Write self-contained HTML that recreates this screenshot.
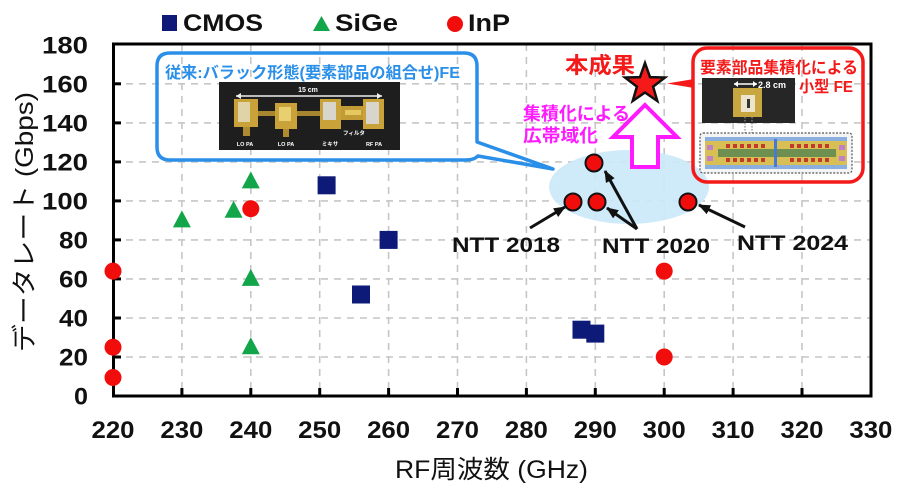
<!DOCTYPE html>
<html>
<head>
<meta charset="utf-8">
<style>
html,body{margin:0;padding:0;background:#fff;}
svg{display:block;}
text{font-family:"Liberation Sans","Noto Sans CJK JP",sans-serif;}
</style>
</head>
<body>
<svg width="900" height="490" viewBox="0 0 900 490" xmlns="http://www.w3.org/2000/svg">
<defs>
<marker id="ah" markerWidth="12" markerHeight="10" refX="11" refY="5" orient="auto" markerUnits="userSpaceOnUse">
<path d="M0,0 L12,5 L0,10 Z" fill="#111"/>
</marker>
</defs>
<rect width="900" height="490" fill="#fff"/>

<!-- grid -->
<g stroke="#c6c6c6" stroke-width="1.6" stroke-dasharray="7,6">
<line x1="181.9" y1="44" x2="181.9" y2="396"/>
<line x1="250.8" y1="44" x2="250.8" y2="396"/>
<line x1="319.7" y1="44" x2="319.7" y2="396"/>
<line x1="388.6" y1="44" x2="388.6" y2="396"/>
<line x1="457.5" y1="44" x2="457.5" y2="396"/>
<line x1="526.4" y1="44" x2="526.4" y2="396"/>
<line x1="595.3" y1="44" x2="595.3" y2="396"/>
<line x1="664.2" y1="44" x2="664.2" y2="396"/>
<line x1="733.1" y1="44" x2="733.1" y2="396"/>
<line x1="802.0" y1="44" x2="802.0" y2="396"/>
<line x1="113" y1="357.0" x2="871" y2="357.0"/>
<line x1="113" y1="318.0" x2="871" y2="318.0"/>
<line x1="113" y1="278.9" x2="871" y2="278.9"/>
<line x1="113" y1="239.9" x2="871" y2="239.9"/>
<line x1="113" y1="200.9" x2="871" y2="200.9"/>
<line x1="113" y1="161.9" x2="871" y2="161.9"/>
<line x1="113" y1="122.9" x2="871" y2="122.9"/>
<line x1="113" y1="83.8" x2="871" y2="83.8"/>
</g>

<!-- ellipse highlight -->
<ellipse cx="629" cy="187" rx="80" ry="37" fill="#cbe8f8" opacity="0.92"/>

<!-- frame -->
<rect x="113.5" y="44" width="757.5" height="352" fill="none" stroke="#000" stroke-width="3"/>
<g stroke="#000" stroke-width="3">
<line x1="113" y1="357.0" x2="121" y2="357.0"/>
<line x1="113" y1="318.0" x2="121" y2="318.0"/>
<line x1="113" y1="278.9" x2="121" y2="278.9"/>
<line x1="113" y1="239.9" x2="121" y2="239.9"/>
<line x1="113" y1="200.9" x2="121" y2="200.9"/>
<line x1="113" y1="161.9" x2="121" y2="161.9"/>
<line x1="113" y1="122.9" x2="121" y2="122.9"/>
<line x1="113" y1="83.8" x2="121" y2="83.8"/>
<line x1="181.9" y1="396" x2="181.9" y2="388"/>
<line x1="250.8" y1="396" x2="250.8" y2="388"/>
<line x1="319.7" y1="396" x2="319.7" y2="388"/>
<line x1="388.6" y1="396" x2="388.6" y2="388"/>
<line x1="457.5" y1="396" x2="457.5" y2="388"/>
<line x1="526.4" y1="396" x2="526.4" y2="388"/>
<line x1="595.3" y1="396" x2="595.3" y2="388"/>
<line x1="664.2" y1="396" x2="664.2" y2="388"/>
<line x1="733.1" y1="396" x2="733.1" y2="388"/>
<line x1="802.0" y1="396" x2="802.0" y2="388"/>
</g>

<!-- y tick labels -->
<g font-size="24" font-weight="bold" fill="#111" text-anchor="end">
<text x="88" y="53.5" textLength="46" lengthAdjust="spacingAndGlyphs">180</text>
<text x="88" y="92.5" textLength="46" lengthAdjust="spacingAndGlyphs">160</text>
<text x="88" y="131.5" textLength="46" lengthAdjust="spacingAndGlyphs">140</text>
<text x="88" y="170.5" textLength="46" lengthAdjust="spacingAndGlyphs">120</text>
<text x="88" y="209.5" textLength="46" lengthAdjust="spacingAndGlyphs">100</text>
<text x="88" y="248.5" textLength="29" lengthAdjust="spacingAndGlyphs">80</text>
<text x="88" y="287.5" textLength="29" lengthAdjust="spacingAndGlyphs">60</text>
<text x="88" y="326.5" textLength="29" lengthAdjust="spacingAndGlyphs">40</text>
<text x="88" y="365.5" textLength="29" lengthAdjust="spacingAndGlyphs">20</text>
<text x="88" y="404.5" textLength="14" lengthAdjust="spacingAndGlyphs">0</text>
</g>

<!-- x tick labels -->
<g font-size="24" font-weight="bold" fill="#111" text-anchor="middle">
<text x="113" y="438" textLength="43" lengthAdjust="spacingAndGlyphs">220</text>
<text x="181.9" y="438" textLength="43" lengthAdjust="spacingAndGlyphs">230</text>
<text x="250.8" y="438" textLength="43" lengthAdjust="spacingAndGlyphs">240</text>
<text x="319.7" y="438" textLength="43" lengthAdjust="spacingAndGlyphs">250</text>
<text x="388.6" y="438" textLength="43" lengthAdjust="spacingAndGlyphs">260</text>
<text x="457.5" y="438" textLength="43" lengthAdjust="spacingAndGlyphs">270</text>
<text x="526.4" y="438" textLength="43" lengthAdjust="spacingAndGlyphs">280</text>
<text x="595.3" y="438" textLength="43" lengthAdjust="spacingAndGlyphs">290</text>
<text x="664.2" y="438" textLength="43" lengthAdjust="spacingAndGlyphs">300</text>
<text x="733.1" y="438" textLength="43" lengthAdjust="spacingAndGlyphs">310</text>
<text x="802.0" y="438" textLength="43" lengthAdjust="spacingAndGlyphs">320</text>
<text x="870.9" y="438" textLength="43" lengthAdjust="spacingAndGlyphs">330</text>
</g>

<!-- axis titles -->
<text x="395" y="478" font-size="25" fill="#111" textLength="193" lengthAdjust="spacingAndGlyphs">RF周波数 (GHz)</text>
<text transform="translate(33,352) rotate(-90)" x="0" y="0" font-size="25" fill="#111" textLength="260" lengthAdjust="spacingAndGlyphs">データレート (Gbps)</text>

<!-- legend -->
<rect x="162" y="15" width="15" height="16" fill="#0d1a78"/>
<text x="183" y="31" font-size="24" font-weight="bold" fill="#111" textLength="80" lengthAdjust="spacingAndGlyphs">CMOS</text>
<polygon points="321.5,16 330,31 313,31" fill="#12a54a"/>
<text x="335" y="31" font-size="24" font-weight="bold" fill="#111" textLength="63" lengthAdjust="spacingAndGlyphs">SiGe</text>
<circle cx="455" cy="24" r="8" fill="#f20d0d"/>
<text x="468" y="31" font-size="24" font-weight="bold" fill="#111" textLength="42" lengthAdjust="spacingAndGlyphs">InP</text>

<!-- blue callout -->
<path d="M170,53 H464 Q477,53 477,66 V142 L553,169 L478,156 Q474,160 466,160 H170 Q157,160 157,147 V66 Q157,53 170,53 Z" fill="none" stroke="#2a8fe8" stroke-width="3.5" stroke-linejoin="round"/>
<text x="165" y="78" font-size="16" font-weight="bold" fill="#2a8fe8" textLength="295" lengthAdjust="spacingAndGlyphs">従来:バラック形態(要素部品の組合せ)FE</text>
<!-- photo 1 -->
<rect x="219" y="82" width="181" height="68" fill="#1e1e1e"/>
<line x1="236" y1="96" x2="382" y2="96" stroke="#eee" stroke-width="1.5"/>
<path d="M236,96 l5,-3 v6 Z M382,96 l-5,-3 v6 Z" fill="#eee"/>
<text x="308" y="92" font-size="7" font-weight="bold" fill="#fff" text-anchor="middle">15 cm</text>
<rect x="258" y="111" width="18" height="5" fill="#a88630"/>
<rect x="297" y="111" width="24" height="5" fill="#a88630"/>
<rect x="234" y="99" width="24" height="28" fill="#c9a23a"/>
<rect x="238" y="102" width="12" height="20" fill="#e0d3a8"/>
<rect x="243" y="127" width="7" height="9" fill="#b08a30"/>
<rect x="275" y="103" width="22" height="26" fill="#c9a23a"/>
<rect x="279" y="107" width="12" height="14" fill="#e8d070"/>
<rect x="283" y="129" width="6" height="8" fill="#b08a30"/>
<rect x="320" y="99" width="21" height="30" fill="#c9a23a"/>
<rect x="323" y="102" width="13" height="18" fill="#d8d6cc"/>
<rect x="341" y="106" width="23" height="14" fill="#c29a36"/>
<rect x="345" y="110" width="16" height="5" fill="#e6c860"/>
<rect x="363" y="99" width="21" height="30" fill="#c9a23a"/>
<rect x="366" y="102" width="13" height="22" fill="#d8d6cc"/>
<g font-size="5.5" font-weight="bold" fill="#fff" text-anchor="middle">
<text x="245" y="146">LO PA</text>
<text x="286" y="146">LO PA</text>
<text x="330" y="146">ミキサ</text>
<text x="374" y="146">RF PA</text>
<text x="354" y="135">フィルタ</text>
</g>

<!-- red callout -->
<rect x="693" y="48" width="170" height="134" rx="14" fill="none" stroke="#f51a1a" stroke-width="3.5"/>
<path d="M694,79 L667,83.5 L694,88 Z" fill="#f51a1a"/>
<text x="700" y="73" font-size="16" font-weight="bold" fill="#f51a1a" textLength="158" lengthAdjust="spacingAndGlyphs">要素部品集積化による</text>
<text x="853" y="92" font-size="16" font-weight="bold" fill="#f51a1a" text-anchor="end" textLength="54" lengthAdjust="spacingAndGlyphs">小型 FE</text>
<rect x="702" y="78" width="93" height="45" fill="#262626"/>
<rect x="733" y="88" width="29" height="29" fill="#c8a640"/>
<rect x="741" y="95" width="14" height="17" fill="#ece4cc"/>
<rect x="747" y="99" width="3" height="9" fill="#333"/>
<line x1="734" y1="84" x2="757" y2="84" stroke="#fff" stroke-width="1.5"/>
<path d="M734,84 l4,-3 v6 Z M757,84 l-4,-3 v6 Z" fill="#fff"/>
<text x="758" y="88" font-size="9" font-weight="bold" fill="#fff">2.8 cm</text>
<line x1="745" y1="117" x2="745" y2="133" stroke="#888" stroke-width="1.2" stroke-dasharray="1.5,1.5"/>
<line x1="752" y1="117" x2="752" y2="133" stroke="#888" stroke-width="1.2" stroke-dasharray="1.5,1.5"/>
<rect x="700" y="133" width="152" height="40" rx="3" fill="#f4f4f4" stroke="#555" stroke-width="1.2" stroke-dasharray="2,1.5"/>
<rect x="705" y="137" width="142" height="32" fill="#d7bf55"/>
<rect x="705" y="137" width="142" height="4" fill="#8bb0e0"/>
<rect x="705" y="165" width="142" height="4" fill="#8bb0e0"/>
<rect x="718" y="149" width="118" height="8" fill="#6d8f50"/>
<g fill="#c23a2a">
<rect x="726" y="144" width="4" height="4"/><rect x="733" y="144" width="4" height="4"/><rect x="740" y="144" width="4" height="4"/><rect x="747" y="144" width="4" height="4"/><rect x="754" y="144" width="4" height="4"/><rect x="761" y="144" width="4" height="4"/>
<rect x="726" y="158" width="4" height="4"/><rect x="733" y="158" width="4" height="4"/><rect x="740" y="158" width="4" height="4"/><rect x="747" y="158" width="4" height="4"/><rect x="754" y="158" width="4" height="4"/><rect x="761" y="158" width="4" height="4"/>
<rect x="790" y="144" width="4" height="4"/><rect x="797" y="144" width="4" height="4"/><rect x="804" y="144" width="4" height="4"/><rect x="811" y="144" width="4" height="4"/><rect x="818" y="144" width="4" height="4"/><rect x="825" y="144" width="4" height="4"/>
<rect x="790" y="158" width="4" height="4"/><rect x="797" y="158" width="4" height="4"/><rect x="804" y="158" width="4" height="4"/><rect x="811" y="158" width="4" height="4"/><rect x="818" y="158" width="4" height="4"/><rect x="825" y="158" width="4" height="4"/>
</g>
<rect x="774" y="139" width="3" height="28" fill="#4a7ad0"/>
<g fill="#c080c8">
<rect x="707" y="145" width="6" height="5"/><rect x="707" y="156" width="6" height="5"/>
<rect x="839" y="145" width="6" height="5"/><rect x="839" y="156" width="6" height="5"/>
</g>

<!-- annotations: 本成果, magenta arrow & text -->
<text x="565" y="73" font-size="22" font-weight="bold" fill="#f51a1a" textLength="70" lengthAdjust="spacingAndGlyphs">本成果</text>
<path d="M645,63 L650,77.1 L665,77.5 L653.1,86.6 L657.3,101 L645,92.5 L632.7,101 L636.9,86.6 L625,77.5 L640,77.1 Z" fill="#f51a1a" stroke="#111" stroke-width="2.5" stroke-linejoin="miter"/>
<polygon points="645,105 677,137 658,137 658,167 632,167 632,137 613,137" fill="#fff" stroke="#ff1aff" stroke-width="4" stroke-linejoin="miter"/>
<text x="523" y="120" font-size="18" font-weight="bold" fill="#ff1aff" textLength="107" lengthAdjust="spacingAndGlyphs">集積化による</text>
<text x="523" y="142" font-size="18" font-weight="bold" fill="#ff1aff" textLength="75" lengthAdjust="spacingAndGlyphs">広帯域化</text>

<!-- CMOS -->
<g fill="#0d1a78">
<rect x="317.6" y="176.3" width="18" height="18"/>
<rect x="379.6" y="230.9" width="18" height="18"/>
<rect x="352.0" y="285.5" width="18" height="18"/>
<rect x="572.5" y="320.7" width="18" height="18"/>
<rect x="586.3" y="324.6" width="18" height="18"/>
</g>
<!-- SiGe -->
<g fill="#12a54a">
<polygon points="181.9,210.4 172.9,227.4 190.9,227.4"/>
<polygon points="233.6,200.7 224.6,217.7 242.6,217.7"/>
<polygon points="250.8,171.4 241.8,188.4 259.8,188.4"/>
<polygon points="250.8,268.9 241.8,285.9 259.8,285.9"/>
<polygon points="250.8,337.2 241.8,354.2 259.8,354.2"/>
</g>
<!-- InP -->
<g fill="#f20d0d">
<circle cx="113" cy="271.1" r="8.5"/>
<circle cx="113" cy="347.2" r="8.5"/>
<circle cx="113" cy="377.5" r="8.5"/>
<circle cx="250.8" cy="208.7" r="8.5"/>
<circle cx="664.2" cy="271.1" r="8.5"/>
<circle cx="664.2" cy="357" r="8.5"/>
</g>
<g fill="#f20d0d" stroke="#111" stroke-width="2">
<circle cx="573" cy="202" r="8.5"/>
<circle cx="597" cy="202" r="8.5"/>
<circle cx="594" cy="163" r="8.5"/>
<circle cx="688" cy="202" r="8.5"/>
</g>

<!-- NTT arrows -->
<g stroke="#111" stroke-width="3" marker-end="url(#ah)">
<line x1="530" y1="228" x2="565" y2="207"/>
<line x1="637" y1="229" x2="607" y2="208"/>
<line x1="637" y1="229" x2="605" y2="171"/>
<line x1="745" y1="227" x2="699" y2="205"/>
</g>
<g font-size="21" font-weight="bold" fill="#111">
<text x="452" y="252" textLength="108" lengthAdjust="spacingAndGlyphs">NTT 2018</text>
<text x="602" y="253" textLength="108" lengthAdjust="spacingAndGlyphs">NTT 2020</text>
<text x="737" y="250" textLength="111" lengthAdjust="spacingAndGlyphs">NTT 2024</text>
</g>
</svg>
</body>
</html>
